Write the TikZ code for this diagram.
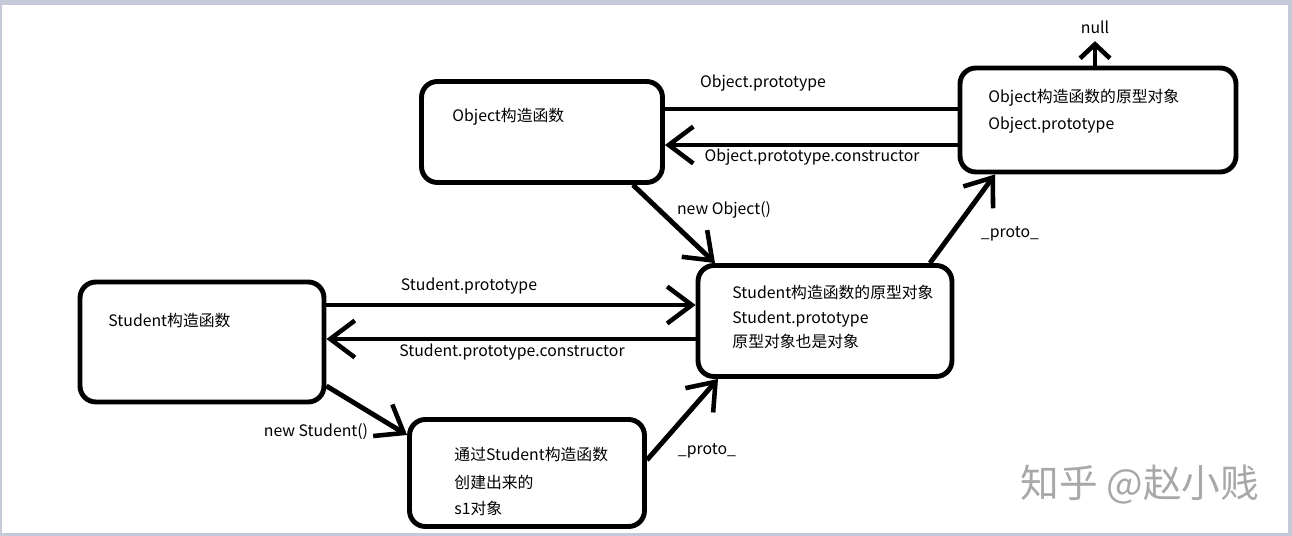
\documentclass[tikz,border=0pt]{standalone}
\usepackage{fontspec}
\setmainfont{Noto Sans CJK SC}
\usepackage{tikz}
\usetikzlibrary{arrows.meta,positioning}
\definecolor{frame}{HTML}{C6CAD8}
\definecolor{mark}{HTML}{A8A8A8}

\begin{document}
\begin{tikzpicture}[x=0.02cm, y=-0.02cm, line width=2.8pt]
\tikzstyle{box}=[draw, rounded corners=9pt, line width=2.8pt, inner sep=0pt]
\tikzstyle{txt}=[anchor=west, inner sep=0pt, font=\fontsize{9pt}{11pt}\selectfont]
\tikzstyle{lbl}=[inner sep=0pt, font=\fontsize{9pt}{11pt}\selectfont]
\tikzstyle{arr}=[-{Straight Barb[length=14pt, width=21pt, line width=2.6pt]}]
\tikzstyle{smallarr}=[-{Straight Barb[length=8pt, width=17pt, line width=2.6pt]}]
\useasboundingbox (0,0) rectangle (1292,536);
\fill[white] (0,0) rectangle (1292,536);
\fill[frame] (0,0) rectangle (1292,5);
\fill[frame] (0,0) rectangle (2,536);
\fill[frame] (1288,0) rectangle (1292,536);
\fill[frame] (0,533) rectangle (1292,536);

\node[box, minimum width=4.82cm, minimum height=2.02cm] (oc) at (542,132) {};
\node[box, minimum width=5.52cm, minimum height=2.08cm] (op) at (1098,120) {};
\node[box, minimum width=4.88cm, minimum height=2.40cm] (sc) at (202,342) {};
\node[box, minimum width=5.08cm, minimum height=2.22cm] (sp) at (825,321) {};
\node[box, minimum width=4.70cm, minimum height=2.14cm] (s1) at (527,473) {};

\node[txt] (octxt) at (450,117) {Object构造函数};
\node[txt] (optxt1) at (986,98) {Object构造函数的原型对象};
\node[txt] (optxt2) at (986,125) {Object.prototype};
\node[txt] (sctxt) at (106,321) {Student构造函数};
\node[txt] (sptxt1) at (730,292) {Student构造函数的原型对象};
\node[txt] (sptxt2) at (730,319) {Student.prototype};
\node[txt] (sptxt3) at (730,341) {原型对象也是对象};
\node[txt] (s1txt1) at (452,455) {通过Student构造函数};
\node[txt] (s1txt2) at (452,482) {创建出来的};
\node[txt] (s1txt3) at (452,508) {s1对象};

\node[lbl] (nul) at (1095,27) {null};
\node[lbl] (l1) at (763,83) {Object.prototype};
\node[lbl] (l2) at (812,157) {Object.prototype.constructor};
\node[lbl] (l3) at (724,210) {new Object()};
\node[lbl] (l4) at (1010,234) {\_proto\_};
\node[lbl] (l5) at (469,286) {Student.prototype};
\node[lbl] (l6) at (512,352) {Student.prototype.constructor};
\node[lbl] (l7) at (316,432) {new Student()};
\node[lbl] (l8) at (707,451) {\_proto\_};

\draw (oc.east |- 0,109) -- (op.west |- 0,109);
\draw[arr] (op.west |- 0,145) -- (oc.east |- 0,145);
\draw[smallarr] (nul.south |- op.north) -- ([yshift=-3pt]nul.south);
\draw[arr] (oc.south -| 633,0) -- (sp.north -| 715,0);
\draw[arr] (sp.north -| 930,0) -- (op.south -| 995,0);
\draw[arr] (sc.east |- 0,305) -- (sp.west |- 0,305);
\draw[arr] (sp.west |- 0,339) -- (sc.east |- 0,339);
\draw[arr] (sc.east |- 0,386) -- (s1.west |- 0,435);
\draw[arr] (s1.east |- 0,460) -- (sp.south -| 718,0);

\node[text=mark, font=\fontsize{22pt}{24pt}\selectfont] (wm) at (1140,485) {知乎 @赵小贱};
\end{tikzpicture}
\end{document}
